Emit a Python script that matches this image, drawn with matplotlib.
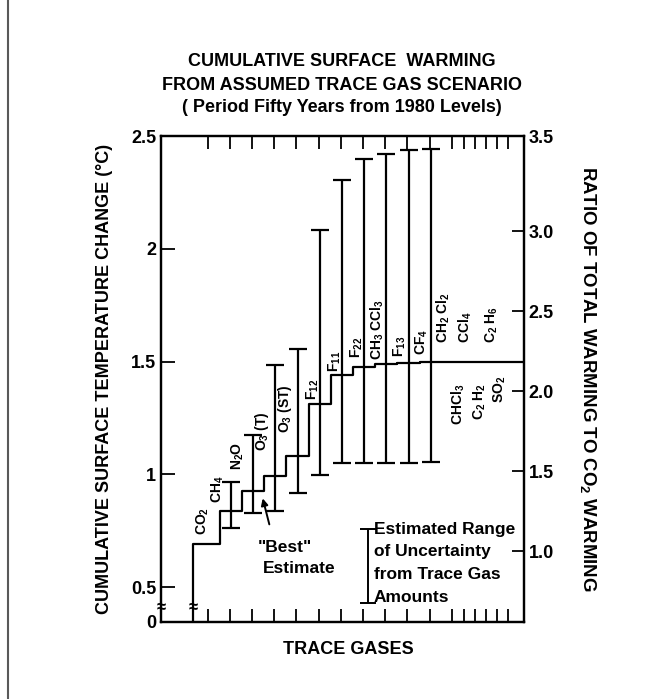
import matplotlib
matplotlib.use('Agg')
import matplotlib.pyplot as plt
import numpy as np
from matplotlib.lines import Line2D

plt.rcParams['font.family'] = ['Liberation Sans', 'DejaVu Sans']
plt.rcParams['font.weight'] = 'bold'
plt.rcParams['mathtext.default'] = 'regular'

# gases that add a visible step, in the order they are added
step_gases = ['CO$_2$', 'CH$_4$', 'N$_2$O', 'O$_3$ (T)', 'O$_3$ (ST)', 'F$_{12}$',
              'F$_{11}$', 'F$_{22}$', 'CH$_3$ CCl$_3$', 'F$_{13}$', 'CF$_4$']
# cumulative "best" estimate of warming (deg C) after each gas
best_estimate = [0.69, 0.835, 0.924, 0.991, 1.082, 1.31, 1.44, 1.475, 1.49, 1.495, 1.50]
# estimated range of uncertainty for every gas after CO2
range_low = [0.76, 0.83, 0.835, 0.915, 0.995, 1.05, 1.05, 1.05, 1.05, 1.055]
range_high = [0.964, 1.173, 1.486, 1.554, 2.085, 2.303, 2.397, 2.419, 2.436, 2.444]
# small contributors, written above / below the flat end of the line
minor_above = ['CH$_2$ Cl$_2$', 'CCl$_4$', 'C$_2$ H$_6$']
minor_below = ['CHCl$_3$', 'C$_2$ H$_2$', 'SO$_2$']

temp_ticks = [0.5, 1, 1.5, 2, 2.5]
temp_labels = ['0.5', '1', '1.5', '2', '2.5']
ratio_ticks = [1.0, 1.5, 2.0, 2.5, 3.0]
ratio_labels = ['1.0', '1.5', '2.0', '2.5', '3.0']

# where the gas names sit (x centre, bottom of text)
step_label_pos = [(0.24, 0.73), (0.9, 0.872), (1.82, 1.019), (2.92, 1.105), (3.93, 1.183),
                  (5.19, 1.329), (6.18, 1.453), (7.18, 1.516), (8.08, 1.507), (9.11, 1.52),
                  (10.1, 1.529)]
above_pos = [(11.05, 1.582), (12.04, 1.582), (13.26, 1.582)]
below_pos = [(11.73, 1.218), (12.72, 1.24), (13.62, 1.316)]

xmin, xmax = -1.65, 14.7
ymin, ymax = 0.345, 2.5

fig = plt.figure(figsize=(6.59, 6.99), dpi=100)
ax = fig.add_axes([161/659, 1 - 622/699, 363/659, 486/699])
ax.set_xlim(xmin, xmax)
ax.set_ylim(ymin, ymax)

# best estimate staircase
x_edges = np.arange(len(best_estimate), dtype=float)
x_edges[0] = -0.2
xs = np.r_[x_edges[0], x_edges, xmax]
ys = np.r_[ymin, best_estimate, best_estimate[-1]]
ax.plot(xs, ys, drawstyle='steps-post', color='k', lw=1.6)

# uncertainty bars in the middle of each step
x_bar = np.arange(1, len(best_estimate)) + 0.5
lo = np.array(range_low)
hi = np.array(range_high)
ax.errorbar(x_bar, (lo + hi) / 2, yerr=(hi - lo) / 2, fmt='none', ecolor='k',
            elinewidth=1.6, capsize=6.5, capthick=1.6)

for name, (x, y) in zip(step_gases, step_label_pos):
    ax.text(x, y, name, rotation=90, ha='center', va='bottom', fontsize=10)
for name, (x, y) in zip(minor_above, above_pos):
    ax.text(x, y, name, rotation=90, ha='center', va='bottom', fontsize=10)
for name, (x, y) in zip(minor_below, below_pos):
    ax.text(x, y, name, rotation=90, ha='center', va='bottom', fontsize=10)

# axis break marks
for xb in [xmin, -0.2]:
    ax.text(xb, 0.407, '≈', ha='center', va='center', fontsize=12, clip_on=False)

# "Best" estimate pointer
ax.annotate('', xy=(2.9, 0.905), xytext=(3.26, 0.766),
            arrowprops=dict(arrowstyle='-|>', color='k', lw=1.4, mutation_scale=10))
ax.text(2.72, 0.677, '"Best"', ha='left', va='center', fontsize=12.5)
ax.text(2.94, 0.584, 'Estimate', ha='left', va='center', fontsize=12.5)

# key for the range bars
ax.errorbar([7.68], [0.593], yerr=[0.164], fmt='none', ecolor='k', elinewidth=1.4,
            capsize=6, capthick=1.4)
key_lines = ['Estimated Range', 'of Uncertainty', 'from Trace Gas', 'Amounts']
for i, line in enumerate(key_lines):
    ax.text(7.94, 0.757 - i * 0.101, line, ha='left', va='center', fontsize=12.5)

# ticks
xt = np.r_[np.arange(0.45, 12, 1.0), np.arange(12, 14.1, 0.5)]
ax.set_xticks(xt)
ax.tick_params(axis='x', which='both', direction='in', length=9.5, width=1.3,
               top=True, bottom=True, labelbottom=False)
ax.set_yticks([ymin] + temp_ticks)
ax.set_yticklabels(['0'] + temp_labels)
ax.tick_params(axis='y', direction='in', length=10, width=1.3, pad=3.5, labelsize=13)
for s in ax.spines.values():
    s.set_linewidth(1.6)

ax2 = ax.twinx()
r_lo, r_hi = 1 - 71/160, 3 + 95/160
ax2.set_ylim(r_lo, r_hi)
ax2.set_yticks(ratio_ticks + [r_hi])
ax2.set_yticklabels(ratio_labels + ['3.5'])
ax2.tick_params(axis='y', direction='in', length=9, width=1.3, pad=3.5, labelsize=13)
for s in ax2.spines.values():
    s.set_linewidth(1.6)

# titles and axis labels
title_lines = ['CUMULATIVE SURFACE  WARMING', 'FROM ASSUMED TRACE GAS SCENARIO',
               '( Period Fifty Years from 1980 Levels)']
for i, line in enumerate(title_lines):
    fig.text(342/659, 1 - (62 + 23 * i)/699, line, ha='center', va='center', fontsize=13)
fig.text(105/659, 1 - 379/699, 'CUMULATIVE SURFACE TEMPERATURE CHANGE (°C)',
         rotation=90, ha='center', va='center', fontsize=13)
fig.text(588/659, 1 - 379/699, 'RATIO OF TOTAL WARMING TO CO$_2$ WARMING',
         rotation=-90, ha='center', va='center', fontsize=13.4)
fig.text(348/659, 1 - 650/699, 'TRACE GASES', ha='center', va='center', fontsize=13)

# page edge of the scan
fig.add_artist(Line2D([8/659, 8/659], [0, 1], color='0.35', lw=1.5))

fig.savefig('out.png', dpi=100)
